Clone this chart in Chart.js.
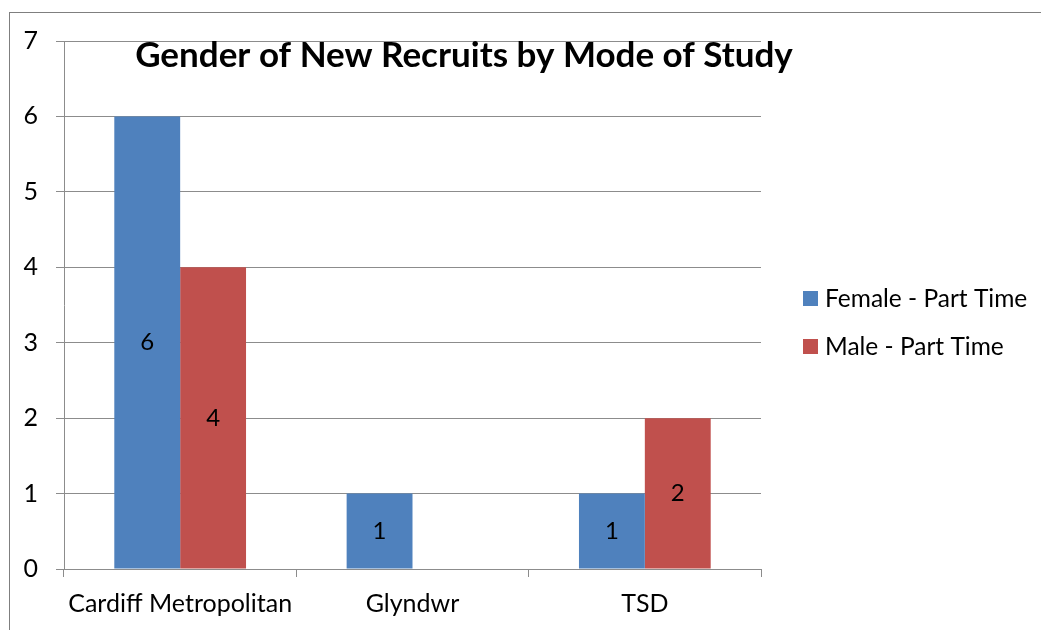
<!DOCTYPE html>
<html>
<head>
<meta charset="utf-8">
<script src="https://cdn.jsdelivr.net/npm/chart.js@4/dist/chart.umd.min.js"></script>
<style>
  html, body { margin: 0; padding: 0; background: #fff; overflow: hidden; }
  #frame { position: absolute; left: 9px; top: 12px; width: 1200px; height: 800px;
           border-top: 1px solid #7f7f7f; border-left: 1px solid #7f7f7f; }
  #wrap { position: absolute; left: 0; top: 0; width: 1041px; height: 630px; }
</style>
</head>
<body>
<div id="frame"></div>
<div id="wrap"><canvas id="chart"></canvas></div>
<script>
const categories = ['Cardiff Metropolitan', 'Glyndwr', 'TSD'];
const femalePartTime = [6, 1, 1];
const malePartTime = [4, 0, 2];
const yTicks = [0, 1, 2, 3, 4, 5, 6, 7];
const seriesNames = ['Female - Part Time', 'Male - Part Time'];
const chartTitle = 'Gender of New Recruits by Mode of Study';

const FONT = 'Lato, "Open Sans", sans-serif';
const GRID = '#8c8c8c';

// title, legend and value labels drawn on the canvas
const decorations = {
    id: 'decorations',
    afterDatasetsDraw(chart) {
        const ctx = chart.ctx;
        ctx.save();
        // value labels in the middle of each bar
        ctx.fillStyle = '#000';
        ctx.font = '24px ' + FONT;
        ctx.textAlign = 'center';
        ctx.textBaseline = 'middle';
        chart.data.datasets.forEach((ds, i) => {
            chart.getDatasetMeta(i).data.forEach((bar, j) => {
                if (!ds.data[j]) return;
                const mid = (bar.y + bar.base) / 2;
                ctx.fillText(String(ds.data[j]), bar.x, mid);
            });
        });
        // title
        ctx.font = 'bold 35px ' + FONT;
        ctx.fillText(chartTitle, 464, 56);
        // legend
        ctx.font = '24.5px ' + FONT;
        ctx.textAlign = 'left';
        chart.data.datasets.forEach((ds, i) => {
            const y = 299 + i * 48;
            ctx.fillStyle = ds.backgroundColor;
            ctx.fillRect(803, y - 8, 15, 15);
            ctx.fillStyle = '#000';
            ctx.fillText(ds.label, 825, y);
        });
        ctx.restore();
    }
};

new Chart(document.getElementById('chart'), {
    type: 'bar',
    data: {
        labels: categories,
        datasets: [{
            label: seriesNames[0],
            data: femalePartTime,
            backgroundColor: '#4F81BD'
        }, {
            label: seriesNames[1],
            data: malePartTime,
            backgroundColor: '#C0504D'
        }]
    },
    options: {
        responsive: true,
        maintainAspectRatio: false,
        animation: false,
        layout: { padding: { top: 41, right: 280, bottom: 0, left: 0 } },
        datasets: { bar: { barPercentage: 1, categoryPercentage: 0.567 } },
        plugins: {
            legend: { display: false },
            title: { display: false },
            tooltip: { enabled: false }
        },
        scales: {
            x: {
                afterFit: s => { s.height = 61; },
                grid: { offset: true, drawOnChartArea: false, color: GRID, tickLength: 8, lineWidth: 1 },
                border: { color: GRID, width: 1 },
                ticks: { color: '#000', font: { family: FONT, size: 25 }, padding: 12, maxRotation: 0 }
            },
            y: {
                min: 0,
                max: 7,
                afterFit: s => { s.width = 64; },
                afterBuildTicks: s => { s.ticks = yTicks.map(v => ({ value: v })); },
                grid: { color: GRID, tickLength: 8, lineWidth: 1 },
                border: { color: GRID, width: 1 },
                ticks: { color: '#000', font: { family: FONT, size: 25 }, padding: 18 }
            }
        }
    },
    plugins: [decorations]
});
</script>
</body>
</html>
